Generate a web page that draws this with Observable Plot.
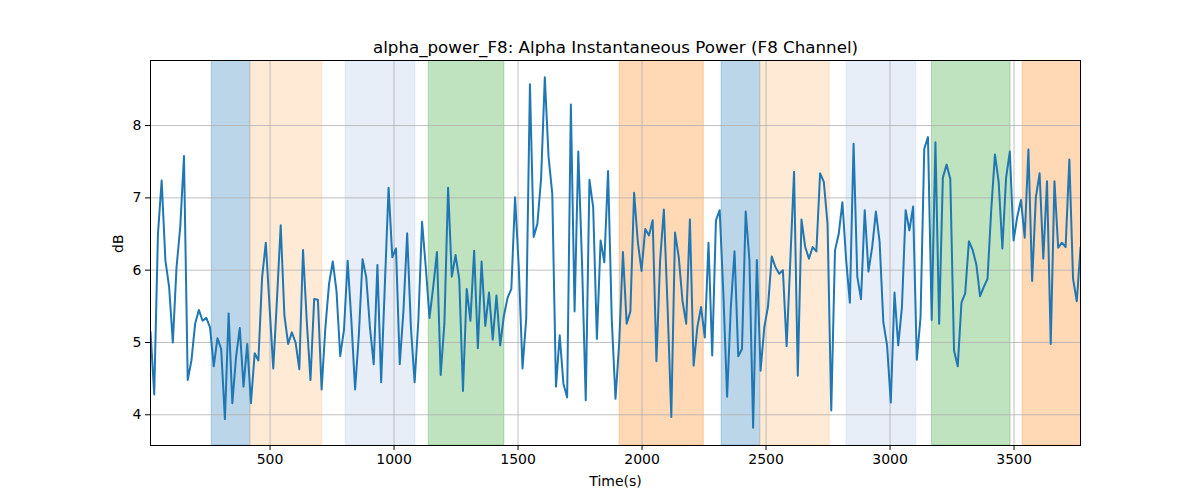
<!DOCTYPE html>
<html>
<head>
<meta charset="utf-8">
<script src="https://cdn.jsdelivr.net/npm/d3@7"></script>
<script src="https://cdn.jsdelivr.net/npm/@observablehq/plot@0.6"></script>
<style>
  html, body { margin: 0; padding: 0; background: #fff; }
  #chart { width: 1200px; height: 500px; }
</style>
</head>
<body>
<div id="chart"></div>
<script>
const titleText = "alpha_power_F8: Alpha Instantaneous Power (F8 Channel)";
const xLabel = "Time(s)";
const yLabel = "dB";
const xTicks = [500, 1000, 1500, 2000, 2500, 3000, 3500];
const yTicks = [4, 5, 6, 7, 8];
const timeStart = 18;
const timeStep = 15;

const power = [
  5.15, 4.28, 6.5, 7.24, 6.14, 5.77, 5.0, 6.04, 6.6, 7.58,
  4.48, 4.75, 5.26, 5.45, 5.3, 5.34, 5.21, 4.67, 5.06, 4.91,
  3.94, 5.4, 4.16, 4.8, 5.2, 4.39, 4.98, 4.16, 4.85, 4.75,
  5.9, 6.38, 5.5, 4.64, 5.6, 6.62, 5.37, 4.98, 5.14, 5.0,
  4.63, 6.28, 5.3, 4.48, 5.6, 5.59, 4.35, 5.2, 5.81, 6.12,
  5.71, 4.81, 5.17, 6.13, 5.3, 4.35, 5.1, 6.15, 5.9, 5.2,
  4.7, 6.07, 4.45, 5.8, 7.14, 6.18, 6.3, 4.7, 5.44, 6.51,
  5.21, 4.45, 5.3, 6.67, 6.04, 5.34, 5.77, 6.25, 4.55, 5.26,
  7.14, 5.91, 6.21, 5.87, 4.33, 5.74, 5.3, 6.27, 4.92, 6.12,
  5.23, 5.69, 5.04, 5.65, 4.96, 5.37, 5.62, 5.74, 7.01, 6.04,
  4.64, 5.33, 8.57, 6.46, 6.64, 7.27, 8.67, 7.57, 7.06, 4.39,
  5.1, 4.43, 4.24, 8.29, 5.43, 7.64, 6.1, 4.2, 7.25, 6.87,
  5.05, 6.41, 6.11, 7.37, 5.31, 4.22, 5.0, 6.25, 5.26, 5.43,
  7.07, 6.39, 5.99, 6.57, 6.48, 6.69, 4.74, 6.14, 6.84, 5.49,
  3.97, 6.52, 6.18, 5.58, 5.26, 6.7, 4.68, 5.21, 5.49, 5.07,
  6.38, 4.82, 6.69, 6.83, 5.67, 4.25, 5.49, 6.26, 4.81, 4.91,
  6.81, 6.14, 3.82, 6.14, 4.61, 5.21, 5.5, 6.19, 6.04, 5.95,
  6.0, 4.95, 6.14, 7.36, 4.54, 6.7, 6.32, 6.16, 6.32, 6.26,
  7.34, 7.22, 6.64, 4.06, 6.27, 6.5, 6.94, 6.14, 5.55, 7.75,
  5.91, 5.6, 6.83, 5.98, 6.32, 6.81, 6.39, 5.28, 4.96, 4.17,
  5.69, 4.96, 5.49, 6.83, 6.55, 6.88, 4.76, 5.35, 7.68, 7.84,
  5.31, 7.77, 5.26, 7.28, 7.46, 7.26, 4.89, 4.67, 5.55, 5.68,
  6.4, 6.28, 6.08, 5.64, 5.77, 5.88, 6.83, 7.6, 7.22, 6.3,
  7.28, 7.64, 6.41, 6.74, 6.97, 6.45, 7.67, 5.85, 7.01, 7.34,
  6.16, 7.23, 4.98, 7.23, 6.31, 6.38, 6.32, 7.53, 5.88, 5.57,
  6.31
];

const bandStarts = [265, 421, 805, 1140, 1910, 2321, 2477, 2825, 3169, 3535];
const bandEnds   = [421, 711, 1086, 1445, 2249, 2477, 2757, 3106, 3486, 3800];
const bandColors = ["#1f77b4", "#ffbb78", "#aec7e8", "#2ca02c", "#ff7f0e",
                    "#1f77b4", "#ffbb78", "#aec7e8", "#2ca02c", "#ff7f0e"];

const series = power.map((v, i) => ({t: timeStart + timeStep * i, v}));
const bands = bandStarts.map((s, i) => ({x1: s, x2: bandEnds[i], c: bandColors[i]}));

const xDomain = [timeStart, timeStart + timeStep * (power.length - 1)];

const chart = Plot.plot({
  width: 1200,
  height: 500,
  marginLeft: 150,
  marginRight: 120,
  marginTop: 60,
  marginBottom: 55,
  style: {fontFamily: "DejaVu Sans", fontSize: "14px", background: "#fff"},
  x: {domain: xDomain, label: null},
  y: {domain: [3.575, 8.9], label: null},
  marks: [
    Plot.rectX(bands, {x1: "x1", x2: "x2", y1: 3.575, y2: 8.9, fill: "c", fillOpacity: 0.3,
      stroke: "c", strokeOpacity: 0.3, strokeWidth: 1, clip: "frame"}),
    Plot.gridX(xTicks, {stroke: "#b0b0b0", strokeOpacity: 1, strokeWidth: 0.8}),
    Plot.gridY(yTicks, {stroke: "#b0b0b0", strokeOpacity: 1, strokeWidth: 0.8}),
    Plot.line(series, {x: "t", y: "v", stroke: "#1f77b4", strokeWidth: 2, clip: "frame"}),
    Plot.frame({stroke: "black", strokeWidth: 1}),
    Plot.axisX(xTicks, {tickSize: 5, tickPadding: 4, tickFormat: d => String(d), label: null, fontSize: 14}),
    Plot.axisY(yTicks, {tickSize: 5, tickPadding: 4, tickFormat: d => String(d), label: null, fontSize: 14}),
    Plot.text([titleText], {frameAnchor: "top", dy: -8, lineAnchor: "bottom", fontSize: 16.7, fill: "black"}),
    Plot.text([xLabel], {frameAnchor: "bottom", dy: 36, lineAnchor: "middle", fontSize: 14, fill: "black"}),
    Plot.text([yLabel], {frameAnchor: "left", dx: -32, rotate: -90, lineAnchor: "middle", fontSize: 14, fill: "black"})
  ]
});
document.getElementById("chart").appendChild(chart);
</script>
</body>
</html>
